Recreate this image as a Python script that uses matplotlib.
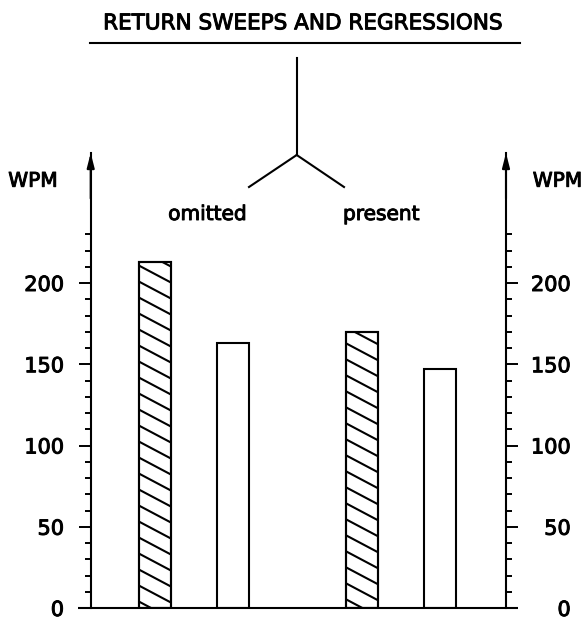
import numpy as np
import matplotlib
matplotlib.use("Agg")
import matplotlib.pyplot as plt
import matplotlib.patheffects as pe
from matplotlib.collections import LineCollection
from matplotlib.lines import Line2D

# ---------------- data ----------------
title = "RETURN SWEEPS AND REGRESSIONS"
groups = ["omitted", "present"]
hatched_values = [213, 170]
open_values = [163, 147]
y_major = [0, 50, 100, 150, 200]
y_minor_top = 230
y_label = "WPM"

# ---------------- layout ----------------
plt.rcParams['font.family'] = ['DejaVu Sans']
FIG_W, FIG_H = 585, 620
fig = plt.figure(figsize=(FIG_W / 100, FIG_H / 100), dpi=100)
THICK = [pe.withStroke(linewidth=0.7, foreground='black')]


def fx(px):
    return px / FIG_W


def fy(py):
    return 1 - py / FIG_H


ax_l, ax_r, ax_b, ax_t = 90.7, 506.0, 608.0, 153.0
px_per_unit = 1.625
slot = 78.0
first_center = 155.0

ax = fig.add_axes([fx(ax_l), fy(ax_b), (ax_r - ax_l) / FIG_W, (ax_b - ax_t) / FIG_H])
ymax = (ax_b - ax_t) / px_per_unit
ax.set_ylim(0, ymax)
ax.set_xlim(-(first_center - ax_l) / slot, (ax_r - first_center) / slot)
ax.patch.set_alpha(0)

LW = 1.5
group_start = [0.0, 2.66]
within = [0.0, 1.0]
bar_w = 0.41

W_px = ax_r - ax_l
H_px = ax_b - ax_t
slope_frac = -0.53 * W_px / H_px
spacing = 16.0 / H_px

for g in range(len(groups)):
    # hatched bar
    p = ax.bar(group_start[g] + within[0], hatched_values[g], width=bar_w,
               facecolor='white', edgecolor='black', linewidth=LW, zorder=2)[0]
    segs = []
    for k in range(-2, int((1 - slope_frac) / spacing) + 3):
        y0 = k * spacing
        segs.append([(0, y0), (1, y0 + slope_frac)])
    lc = LineCollection(segs, colors='black', linewidths=1.5,
                        transform=ax.transAxes, zorder=2.5)
    ax.add_collection(lc)
    lc.set_clip_path(p)
    ax.bar(group_start[g] + within[0], hatched_values[g], width=bar_w,
           facecolor='none', edgecolor='black', linewidth=LW, zorder=3)
    # open bar
    ax.bar(group_start[g] + within[1], open_values[g], width=bar_w,
           facecolor='white', edgecolor='black', linewidth=LW, zorder=2)

# spines
for s in ['top', 'bottom']:
    ax.spines[s].set_visible(False)
for s in ['left', 'right']:
    ax.spines[s].set_linewidth(LW)
ax.set_xticks([])

minor = [v for v in range(10, y_minor_top + 1, 10) if v not in y_major]

ax.set_yticks(y_major)
ax.set_yticks(minor, minor=True)
ax.tick_params(axis='y', which='major', direction='out', length=8.6, width=1.4,
               labelsize=15, pad=10.6, left=True, right=False,
               labelleft=True, labelright=False)
ax.tick_params(axis='y', which='minor', direction='out', length=4.2, width=1.4,
               left=True, right=False)
for t in ax.get_yticklabels():
    t.set_path_effects(THICK)

ax2 = ax.twinx()
ax2.set_ylim(ax.get_ylim())
ax2.patch.set_alpha(0)
for s in ['top', 'bottom', 'left', 'right']:
    ax2.spines[s].set_visible(False)
ax2.set_yticks(y_major)
ax2.set_yticks(minor, minor=True)
ax2.tick_params(axis='y', which='major', direction='out', length=8.6, width=1.4,
                labelsize=15, pad=38, right=True, labelright=True)
ax2.tick_params(axis='y', which='minor', direction='out', length=4.2, width=1.4,
                right=True)
for t in ax2.get_yticklabels():
    t.set_horizontalalignment('right')
    t.set_path_effects(THICK)

# baseline extending past both axes
ax.plot([(78 - ax_l) / W_px, (518 - ax_l) / W_px], [0, 0], color='black', lw=LW,
        transform=ax.get_yaxis_transform(), clip_on=False, solid_capstyle='butt')

# arrows on the axes
for xa in (0, 1):
    ax.annotate('', xy=(xa, 1.0), xytext=(xa, 0.9), xycoords='axes fraction',
                arrowprops=dict(arrowstyle='-|>,head_length=0.86,head_width=0.22',
                                color='black', lw=LW, shrinkA=0, shrinkB=0),
                annotation_clip=False)

# axis labels
fig.text(fx(33), fy(186.7), y_label, ha='center', va='baseline', fontsize=14.5,
         path_effects=THICK)
fig.text(fx(557.5), fy(186.7), y_label, ha='center', va='baseline', fontsize=14.5,
         path_effects=THICK)

# title + underline
fig.text(fx(303), fy(29.3), title, ha='center', va='baseline', fontsize=15.5,
         path_effects=THICK)
fig.add_artist(Line2D([fx(90), fx(520)], [fy(42.7), fy(42.7)], color='black', lw=LW))

# tree diagram
tree_x, tree_top, tree_fork, tree_end_y = 296.7, 58, 155, 187
fig.add_artist(Line2D([fx(tree_x), fx(tree_x)], [fy(tree_top), fy(tree_fork)], color='black', lw=LW))
fig.add_artist(Line2D([fx(tree_x), fx(249)], [fy(tree_fork), fy(tree_end_y)], color='black', lw=LW))
fig.add_artist(Line2D([fx(tree_x), fx(344)], [fy(tree_fork), fy(tree_end_y)], color='black', lw=LW))

# group labels
fig.text(fx(207.5), fy(220), groups[0], ha='center', va='baseline', fontsize=14.5,
         path_effects=THICK)
fig.text(fx(381.5), fy(220), groups[1], ha='center', va='baseline', fontsize=14.5,
         path_effects=THICK)

fig.savefig("out.png", dpi=100)
